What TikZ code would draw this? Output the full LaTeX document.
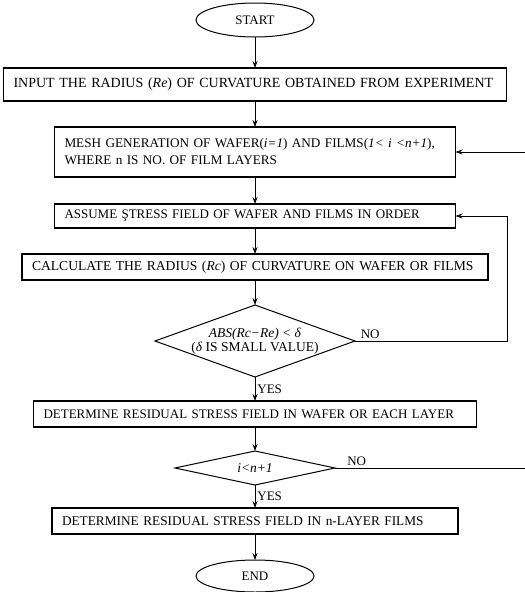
\documentclass[tikz,border=0pt]{standalone}
\usepackage{fontspec}
\setmainfont{Liberation Serif}
\usepackage{tikz}
\usetikzlibrary{positioning,arrows.meta,shapes.geometric}

\begin{document}
\begin{tikzpicture}[
    > = {Stealth[length=7pt, width=5pt]},
    x = 1pt, y = 1pt,
    node distance = 25pt,
    font = \fontsize{13}{17}\selectfont,
    terminal/.style = {ellipse, draw, line width=1pt, outer sep=0pt, minimum width=118pt, minimum height=34pt, inner sep=0pt},
    process/.style = {rectangle, draw, line width=1.2pt, outer sep=0pt, align=left, inner xsep=10pt, inner ysep=0pt},
    decision/.style = {diamond, draw, line width=1pt, outer sep=0pt, inner sep=0pt, align=center, font=\fontsize{13.5}{13.5}\selectfont},
    flow/.style = {->, line width=0.8pt}
]
\useasboundingbox (0,0) rectangle (525,-592);

% Steps
\node[terminal] (start) at (255,-20) {START};
\node[process, text width=483pt, minimum height=33pt, font=\fontsize{14}{17}\selectfont] (input) [below=31pt of start] {INPUT THE RADIUS (\textit{Re}) OF CURVATURE OBTAINED FROM EXPERIMENT};
\node[process, text width=381pt, minimum height=50pt, font=\fontsize{13.2}{17}\selectfont] (mesh) [below=26pt of input] {MESH GENERATION OF WAFER(\textit{i=1}) AND FILMS(\textit{1< i <n+1}),\\WHERE n IS NO. OF FILM LAYERS};
\node[process, text width=381pt, minimum height=24pt] (assume) [below=27pt of mesh] {ASSUME ŞTRESS FIELD OF WAFER AND FILMS IN ORDER};
\node[process, text width=446pt, minimum height=26pt, font=\fontsize{13.6}{17}\selectfont] (calc) [below=26pt of assume] {CALCULATE THE RADIUS (\textit{Rc}) OF CURVATURE ON WAFER OR FILMS};
\node[decision, aspect=2.78, minimum width=200pt, minimum height=72pt] (check) [below=of calc] {\textit{ABS(Rc−Re) < δ}\\(\textit{δ} IS SMALL VALUE)};
\node[process, text width=423pt, minimum height=26pt] (layer) [below=24pt of check] {DETERMINE RESIDUAL STRESS FIELD IN WAFER OR EACH LAYER};
\node[decision, aspect=4.7, minimum width=160pt, minimum height=34pt] (count) [below=24pt of layer] {\textit{i<n+1}};
\node[process, text width=386pt, minimum height=26pt, font=\fontsize{13.3}{17}\selectfont] (films) [below=23pt of count] {DETERMINE RESIDUAL STRESS FIELD IN n-LAYER FILMS};
\node[terminal, minimum height=32pt] (end) [below=26pt of films] {END};

% Return paths
\coordinate (backA) at (507,0);
\coordinate (backB) at (532,0);

% Main flow
\path[flow]
    (start) edge (input)
    (input) edge (mesh)
    (mesh) edge (assume)
    (assume) edge (calc)
    (calc) edge (check)
    (check) edge node[right, inner sep=2pt] {YES} (layer)
    (layer) edge (count)
    (count) edge node[right, inner sep=2pt] {YES} (films)
    (films) edge (end);

% Loops
\draw[flow] (check.east) -- node[pos=0.1, above, inner sep=2pt] {NO} (check.east -| backA) |- (assume.east);
\draw[flow] (count.east) -- node[pos=0.11, above, inner sep=2pt] {NO} (count.east -| backB) |- (mesh.east);

\end{tikzpicture}
\end{document}
